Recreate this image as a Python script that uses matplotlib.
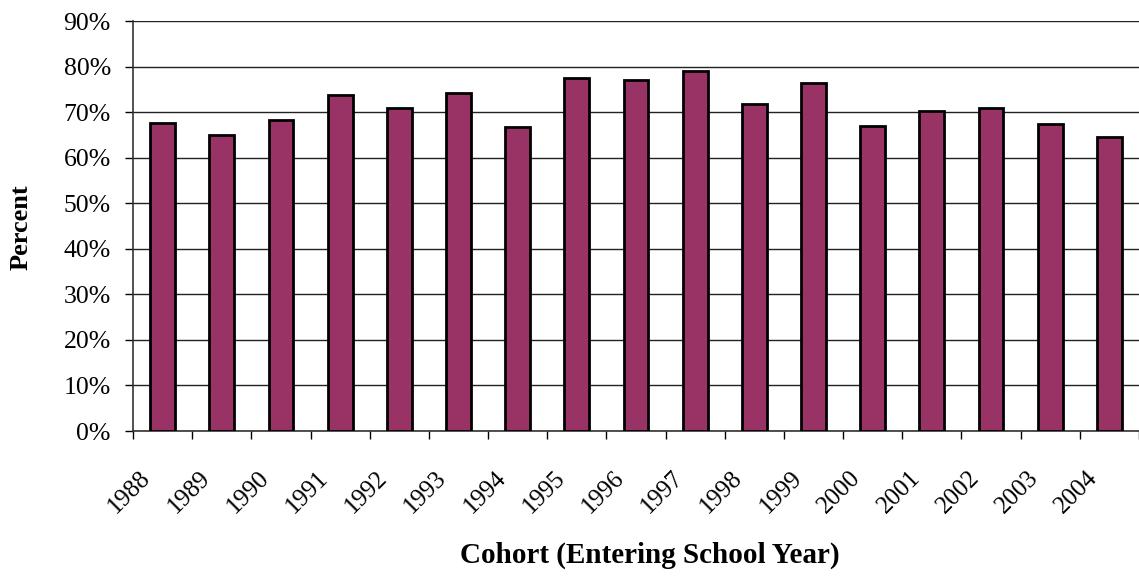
import matplotlib
matplotlib.use("Agg")
import matplotlib.pyplot as plt
import numpy as np

cohorts = ["1988", "1989", "1990", "1991", "1992", "1993", "1994", "1995", "1996",
           "1997", "1998", "1999", "2000", "2001", "2002", "2003", "2004"]
percent = [67.7, 64.9, 68.2, 73.8, 70.9, 74.3, 66.7, 77.4, 77.0,
           79.1, 71.8, 76.5, 67.0, 70.2, 70.9, 67.5, 64.5]
y_ticks = [0, 10, 20, 30, 40, 50, 60, 70, 80, 90]

plt.rcParams['font.family'] = ['Liberation Serif', 'DejaVu Serif']

fig = plt.figure(figsize=(11.39, 5.78), dpi=100)
ax = fig.add_axes([133 / 1139, 1 - 431 / 578, (1139 - 133) / 1139, (431 - 21) / 578])

x = np.arange(len(cohorts))
ax.bar(x, percent, width=0.42, color="#993366", edgecolor="black", linewidth=2, zorder=3)

ax.set_xlim(-0.5, len(cohorts) - 0.5)
ax.set_ylim(0, 90)
ax.set_yticks(y_ticks)
ax.set_yticklabels([f"{v}%" for v in y_ticks], fontsize=18.5)
ax.yaxis.grid(True, color="#222222", linewidth=1, zorder=0)

# rotated year labels sit slightly left of each bar centre
ax.set_xticks(x - 0.39)
ax.set_xticklabels(cohorts, rotation=45, ha="right", rotation_mode="anchor", fontsize=18)
ax.set_xticks(np.arange(len(cohorts) + 1) - 0.5, minor=True)
ax.tick_params(axis="x", which="major", length=0, pad=26)
ax.tick_params(axis="x", which="minor", length=6, width=1, direction="out")
ax.tick_params(axis="y", length=6, width=1, direction="out", pad=10)

for side in ["top", "right"]:
    ax.spines[side].set_visible(False)
ax.spines["left"].set_color("#333333")
ax.spines["bottom"].set_color("#333333")
ax.spines["left"].set_linewidth(1.2)
ax.spines["bottom"].set_linewidth(1.2)

fig.text(21 / 1139, 1 - 227 / 578, "Percent", rotation=90, ha="center", va="center",
         fontsize=19, fontweight="bold")
fig.text(650 / 1139, 1 - 555 / 578, "Cohort (Entering School Year)",
         ha="center", va="center", fontsize=21, fontweight="bold")

fig.savefig("out.png", dpi=100)
